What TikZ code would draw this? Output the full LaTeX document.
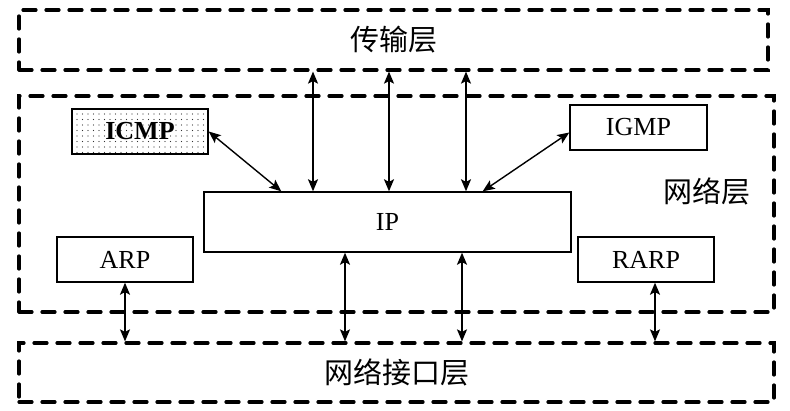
\documentclass[tikz,border=0pt]{standalone}
\usepackage{fontspec}
\setmainfont{Liberation Serif}
\newfontfamily\cjk{Noto Sans CJK SC}
\usetikzlibrary{positioning, arrows.meta, patterns.meta}

\begin{document}
\begin{tikzpicture}[
    x=1pt, y=-1pt,
    layer/.style={
      draw, dash pattern=on 13pt off 10pt, line cap=round, line width=3.2pt,
      minimum width=752pt, inner sep=0pt, font=\fontsize{29}{32}\cjk
    },
    proto/.style={
      draw, line width=1.4pt, minimum width=136pt, minimum height=45pt,
      inner sep=0pt, font=\fontsize{26}{28}\selectfont
    },
    arr/.style={{Stealth[length=12pt, width=10pt, inset=2.5pt]}-{Stealth[length=12pt, width=10pt, inset=2.5pt]}, line width=1.4pt}
  ]
    \useasboundingbox (0,0) rectangle (790,411);

    % Layers (top to bottom)
    \node[layer, minimum width=749pt, minimum height=60pt]  (trans) at (393.5, 40)  {传输层};
    \node[layer, minimum width=755pt, minimum height=216pt] (net)   at (396.5, 204) {};
    \node[layer, minimum width=755pt, minimum height=59pt]  (iface) at (396.5, 372.5) {网络接口层};
    \node[font=\fontsize{29}{32}\cjk] (netlbl) at (707, 191) {网络层};

    % Protocols inside the network layer
    \node[proto, minimum width=367pt, minimum height=60pt] (ip) at (387.5, 222) {IP};
    \node[proto, pattern={Dots[distance=5.5pt, radius=0.7pt]}, pattern color=black!80,
          font=\fontsize{26}{28}\selectfont\bfseries] (icmp) at (140, 131.5) {ICMP};
    \node[proto, minimum width=137pt] (igmp) at (638.5, 127.5) {IGMP};
    \node[proto] (arp)  at (125, 259.5) {ARP};
    \node[proto] (rarp) at (646, 259.5) {RARP};

    % Transport <-> IP
    \draw[arr] ([xshift=-74.5pt]ip.north) -- ([xshift=-74.5pt]ip.north |- trans.south);
    \draw[arr] ([xshift=1.5pt]ip.north)   -- ([xshift=1.5pt]ip.north |- trans.south);
    \draw[arr] ([xshift=78.5pt]ip.north)  -- ([xshift=78.5pt]ip.north |- trans.south);

    % ICMP / IGMP <-> IP
    \draw[arr] (icmp.east) -- ([xshift=78pt]ip.north west);
    \draw[arr] ([yshift=-5pt]igmp.west) -- ([xshift=-89pt]ip.north east);

    % IP, ARP, RARP <-> interface layer
    \draw[arr] ([xshift=-42.5pt]ip.south) -- ([xshift=-42.5pt]ip.south |- iface.north);
    \draw[arr] ([xshift=74.5pt]ip.south)  -- ([xshift=74.5pt]ip.south |- iface.north);
    \draw[arr] (arp.south) -- (arp.south |- iface.north);
    \draw[arr] ([xshift=9pt]rarp.south) -- ([xshift=9pt]rarp.south |- iface.north);
\end{tikzpicture}
\end{document}
